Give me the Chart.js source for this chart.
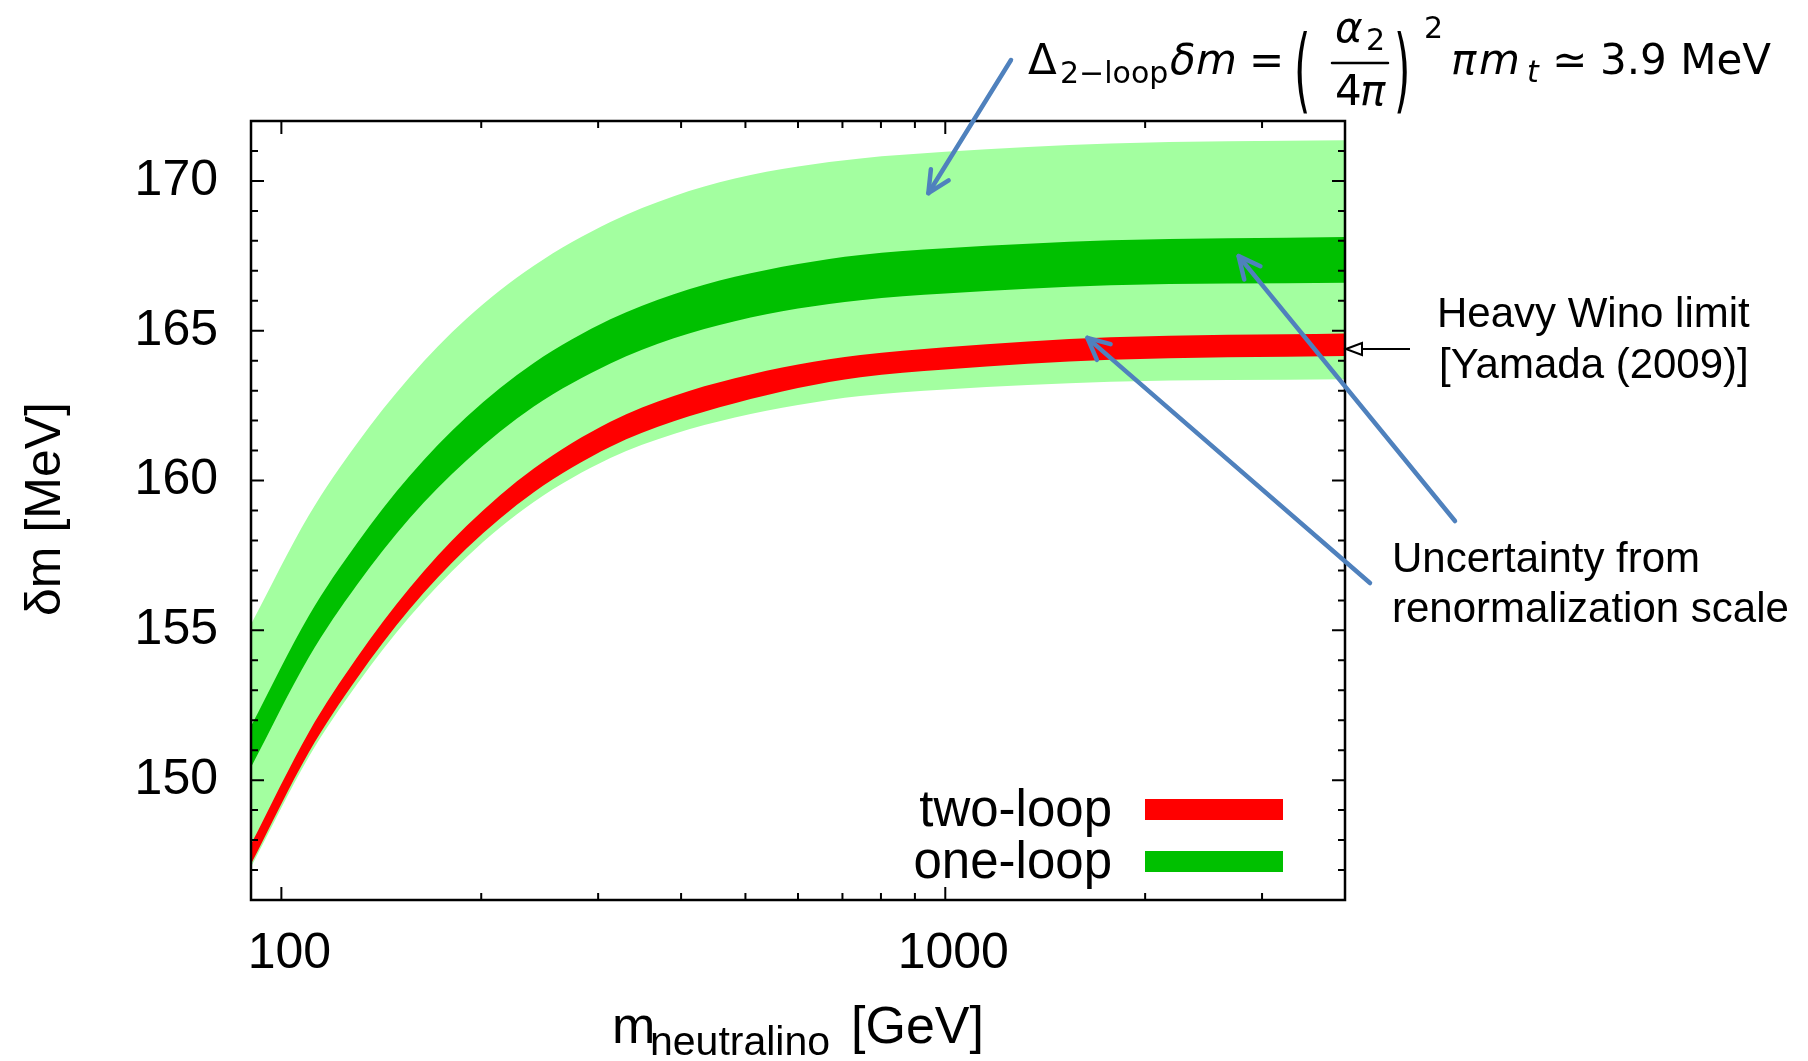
<!DOCTYPE html>
<html>
<head>
<meta charset="utf-8">
<script src="https://cdn.jsdelivr.net/npm/chart.js@4.4.0/dist/chart.umd.min.js"></script>
<style>
  html, body { margin: 0; padding: 0; background: #fff; }
</style>
</head>
<body>
<canvas id="chart" width="1808" height="1061"></canvas>
<script>
// neutralino mass [GeV]
const massGeV = [90, 110, 130, 156, 190, 240, 313, 390, 482, 600, 745, 1000, 1774, 4000];

// one-loop, scale uncertainty (light green band)
const oneLoopWideHi = [155.2, 158.84, 161.24, 163.45, 165.4, 167.17, 168.63, 169.49, 170.08, 170.48, 170.75, 170.97, 171.25, 171.36];
const oneLoopWideLo = [147.1, 150.78, 153.2, 155.45, 157.44, 159.28, 160.75, 161.55, 162.1, 162.52, 162.82, 163.04, 163.3, 163.38];
// one-loop (dark green band)
const oneLoopHi = [151.8, 155.49, 157.91, 160.15, 162.12, 163.92, 165.38, 166.22, 166.8, 167.23, 167.53, 167.75, 168.02, 168.13];
const oneLoopLo = [150.43, 154.1, 156.52, 158.74, 160.67, 162.47, 163.91, 164.75, 165.32, 165.74, 166.02, 166.24, 166.52, 166.6];
// two-loop (red band)
const twoLoopHi = [147.86, 151.6, 154.09, 156.41, 158.48, 160.4, 161.96, 162.82, 163.41, 163.87, 164.19, 164.45, 164.78, 164.91];
const twoLoopLo = [147.2, 150.93, 153.4, 155.7, 157.73, 159.61, 161.13, 161.98, 162.58, 163.09, 163.45, 163.71, 164.03, 164.16];

const xTickLabels = [100, 1000];
const yTickLabels = [150, 155, 160, 165, 170];
const legendLabels = ['two-loop', 'one-loop'];
const heavyWinoLimit = 164.39;

const LIGHT_GREEN = '#a3ffa0';
const DARK_GREEN = '#00c000';
const RED = '#ff0000';
const ARROW_BLUE = '#4f81bd';

const pts = vals => massGeV.map((m, i) => ({ x: m, y: vals[i] }));

function bandEdge(vals, color, fill) {
    return {
        data: pts(vals),
        borderWidth: 0,
        borderColor: color,
        backgroundColor: color,
        pointRadius: 0,
        cubicInterpolationMode: 'monotone',
        fill: fill
    };
}

// annotation arrows: tails in pixels, heads in data coordinates
const blueArrows = [
    { tail: [1011, 60], head: { m: 943, dm: 169.59 } },
    { tail: [1455, 521], head: { m: 2766, dm: 167.49 } },
    { tail: [1370, 583], head: { m: 1637, dm: 164.76 } }
];

function drawArrowHead(ctx, x0, y0, x1, y1, len, ang) {
    const t = Math.atan2(y1 - y0, x1 - x0);
    ctx.beginPath();
    ctx.moveTo(x1 - len * Math.cos(t - ang), y1 - len * Math.sin(t - ang));
    ctx.lineTo(x1, y1);
    ctx.lineTo(x1 - len * Math.cos(t + ang), y1 - len * Math.sin(t + ang));
    ctx.stroke();
}

function text(ctx, str, x, y, font, align) {
    ctx.font = font;
    ctx.textAlign = align || 'left';
    ctx.fillText(str, x, y);
}

const decorations = {
    id: 'decorations',
    afterDraw(chart) {
        const { ctx, chartArea: a } = chart;
        const xs = chart.scales.x, ys = chart.scales.y;
        ctx.save();
        ctx.fillStyle = '#000';
        ctx.strokeStyle = '#000';
        ctx.textBaseline = 'alphabetic';

        // ticks, inward on all four sides
        ctx.lineWidth = 2;
        ctx.beginPath();
        for (let v = 147; v <= 171; v++) {
            const len = v % 5 === 0 ? 13 : 7;
            const py = ys.getPixelForValue(v);
            ctx.moveTo(a.left, py); ctx.lineTo(a.left + len, py);
            ctx.moveTo(a.right, py); ctx.lineTo(a.right - len, py);
        }
        const xt = [100, 200, 300, 400, 500, 600, 700, 800, 900, 1000, 2000, 3000];
        xt.forEach(v => {
            const len = (v === 100 || v === 1000) ? 13 : 7;
            const px = xs.getPixelForValue(v);
            ctx.moveTo(px, a.bottom); ctx.lineTo(px, a.bottom - len);
            ctx.moveTo(px, a.top); ctx.lineTo(px, a.top + len);
        });
        ctx.stroke();

        // frame
        ctx.lineWidth = 2.5;
        ctx.strokeRect(a.left, a.top, a.right - a.left, a.bottom - a.top);

        // axis titles
        text(ctx, 'm', 612, 1043, '52px "Liberation Sans"');
        text(ctx, 'neutralino', 650, 1055, '41px "Liberation Sans"');
        text(ctx, '[GeV]', 851, 1043, '52px "Liberation Sans"');
        ctx.save();
        ctx.translate(60, 509);
        ctx.rotate(-Math.PI / 2);
        text(ctx, 'δm [MeV]', 0, 0, '50px "Liberation Sans"', 'center');
        ctx.restore();

        // legend
        const legendColors = [RED, DARK_GREEN];
        legendLabels.forEach((lab, i) => {
            const base = 826 + i * 52;
            text(ctx, lab, 1112, base, '51px "Liberation Sans"', 'right');
            ctx.fillStyle = legendColors[i];
            ctx.fillRect(1145, base - 27, 138, 21);
            ctx.fillStyle = '#000';
        });

        // right-side notes
        const note = '42px "Liberation Sans"';
        text(ctx, 'Heavy Wino limit', 1437, 327, note);
        text(ctx, '[Yamada (2009)]', 1439, 378, note);
        text(ctx, 'Uncertainty from', 1392, 572, note);
        text(ctx, 'renormalization scale', 1392, 622, note);

        // heavy wino limit arrow (black, open triangle)
        const wy = ys.getPixelForValue(heavyWinoLimit);
        ctx.lineWidth = 2;
        ctx.beginPath();
        ctx.moveTo(1410, wy); ctx.lineTo(a.right + 16, wy);
        ctx.stroke();
        ctx.beginPath();
        ctx.moveTo(a.right + 1, wy);
        ctx.lineTo(a.right + 17, wy - 6);
        ctx.lineTo(a.right + 17, wy + 6);
        ctx.closePath();
        ctx.fillStyle = '#fff';
        ctx.fill();
        ctx.stroke();
        ctx.fillStyle = '#000';

        // blue arrows
        ctx.strokeStyle = ARROW_BLUE;
        ctx.lineWidth = 4.5;
        ctx.lineCap = 'round';
        ctx.lineJoin = 'round';
        blueArrows.forEach(ar => {
            const hx = xs.getPixelForValue(ar.head.m);
            const hy = ys.getPixelForValue(ar.head.dm);
            ctx.beginPath();
            ctx.moveTo(ar.tail[0], ar.tail[1]);
            ctx.lineTo(hx, hy);
            ctx.stroke();
            drawArrowHead(ctx, ar.tail[0], ar.tail[1], hx, hy, 24, 0.45);
        });

        // formula: Δ_{2-loop} δm = (α2 / 4π)^2 π m_t ≃ 3.9 MeV
        ctx.fillStyle = '#000';
        ctx.strokeStyle = '#000';
        const big = '42px "DejaVu Sans"';
        const bigIt = 'oblique 42px "DejaVu Sans"';
        const small = '30px "DejaVu Sans"';
        const smallIt = 'oblique 30px "DejaVu Sans"';
        text(ctx, 'Δ', 1028, 74, big);
        text(ctx, '2−loop', 1060, 83, small);
        text(ctx, 'δ', 1170, 74, bigIt);
        text(ctx, 'm', 1196, 74, bigIt);
        text(ctx, '=', 1249, 74, big);
        ctx.save();
        ctx.scale(1, 2.2);
        text(ctx, '(', 1294, 46.4, big);
        text(ctx, ')', 1394, 46.4, big);
        ctx.restore();
        text(ctx, 'α', 1335, 42, bigIt);
        text(ctx, '2', 1366, 50, small);
        ctx.lineWidth = 2.5;
        ctx.beginPath();
        ctx.moveTo(1332, 63); ctx.lineTo(1388, 63);
        ctx.stroke();
        text(ctx, '4', 1335, 105, big);
        text(ctx, 'π', 1360, 105, bigIt);
        text(ctx, '2', 1424, 38, small);
        text(ctx, 'π', 1451, 74, bigIt);
        text(ctx, 'm', 1479, 74, bigIt);
        text(ctx, 't', 1527, 82, smallIt);
        text(ctx, '≃', 1552, 74, big);
        text(ctx, '3.9 MeV', 1600, 74, big);

        ctx.restore();
    }
};

new Chart(document.getElementById('chart'), {
    type: 'line',
    data: {
        datasets: [
            bandEdge(twoLoopHi, RED, '+1'),
            bandEdge(twoLoopLo, RED, false),
            bandEdge(oneLoopHi, DARK_GREEN, '+1'),
            bandEdge(oneLoopLo, DARK_GREEN, false),
            bandEdge(oneLoopWideHi, LIGHT_GREEN, '+1'),
            bandEdge(oneLoopWideLo, LIGHT_GREEN, false)
        ]
    },
    options: {
        responsive: false,
        animation: false,
        devicePixelRatio: 1,
        layout: { padding: { top: 121, right: 463, left: 0, bottom: 0 } },
        plugins: {
            legend: { display: false },
            tooltip: { enabled: false }
        },
        scales: {
            x: {
                type: 'logarithmic',
                min: 90,
                max: 4000,
                grid: { display: false, drawTicks: false },
                border: { display: false },
                afterBuildTicks: s => { s.ticks = xTickLabels.map(v => ({ value: v, major: true })); },
                afterFit: s => { s.height = 161; },
                ticks: {
                    autoSkip: false,
                    maxRotation: 0,
                    padding: 24,
                    labelOffset: 8,
                    color: '#000',
                    font: { family: 'Liberation Sans', size: 50 },
                    callback: v => String(v)
                }
            },
            y: {
                type: 'linear',
                min: 146,
                max: 172,
                grid: { display: false, drawTicks: false },
                border: { display: false },
                afterBuildTicks: s => { s.ticks = yTickLabels.map(v => ({ value: v })); },
                afterFit: s => { s.width = 251; },
                ticks: {
                    padding: 33,
                    color: '#000',
                    font: { family: 'Liberation Sans', size: 50 },
                    callback: v => String(v)
                }
            }
        }
    },
    plugins: [decorations]
});
</script>
</body>
</html>
